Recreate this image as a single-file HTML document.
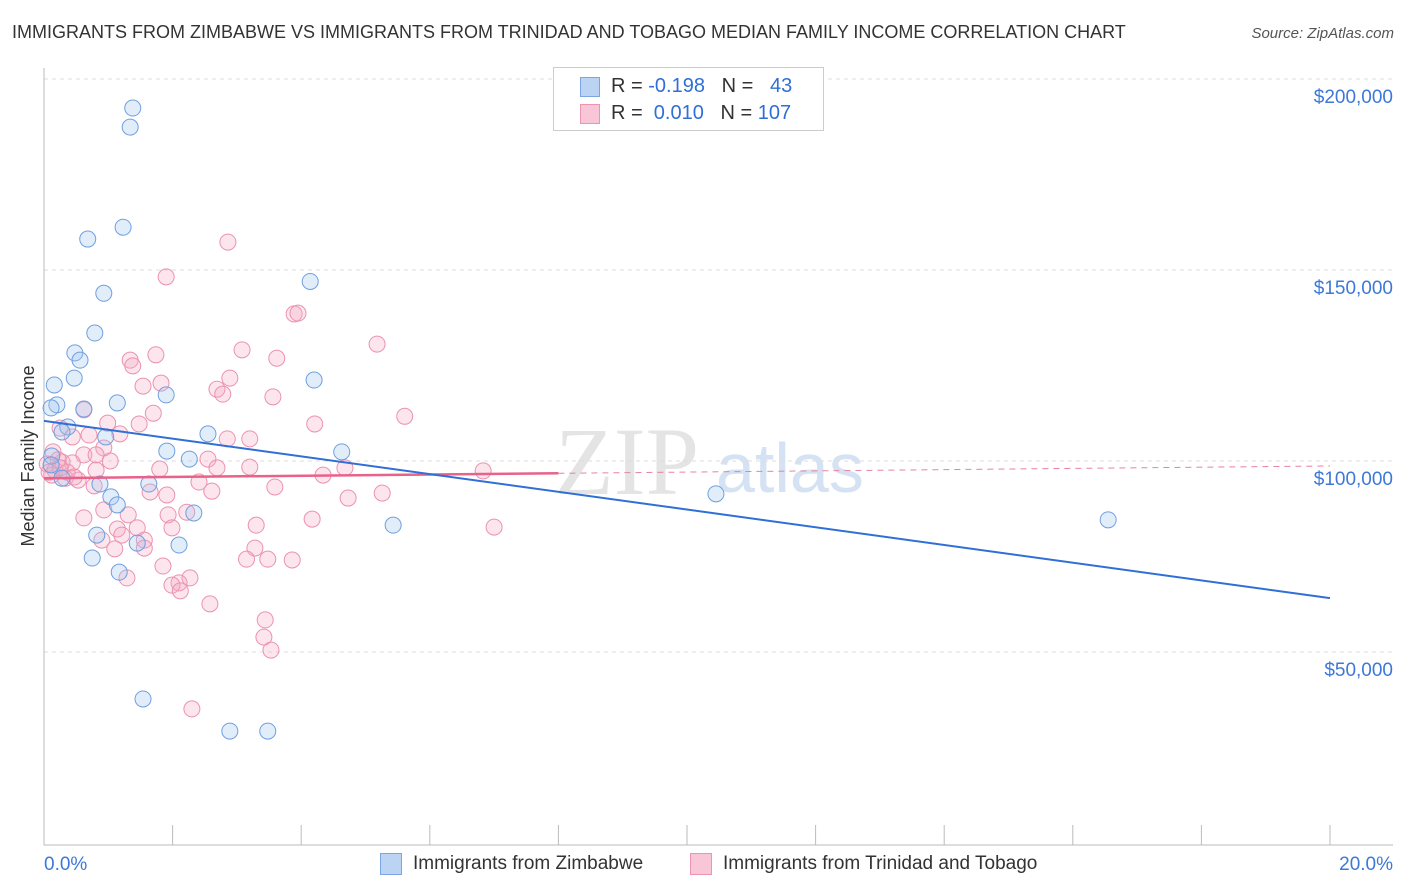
<!DOCTYPE html>
<html><head><meta charset="utf-8"><style>
body{margin:0;background:#fff;font-family:"Liberation Sans",sans-serif;}
#wrap{position:relative;width:1406px;height:892px;overflow:hidden;}
.t{position:absolute;white-space:nowrap;}
</style></head><body><div id="wrap">
<div class="t" style="left:12px;top:22px;font-size:18px;color:#333">IMMIGRANTS FROM ZIMBABWE VS IMMIGRANTS FROM TRINIDAD AND TOBAGO MEDIAN FAMILY INCOME CORRELATION CHART</div>
<div class="t" style="right:12px;top:25px;font-size:15px;font-style:italic;color:#555">Source: ZipAtlas.com</div>
<svg id="svg" width="1406" height="892" style="position:absolute;left:0;top:0">
<text x="555" y="494" font-size="96" font-family="Liberation Serif" fill="#e4e4e4">ZIP</text>
<text x="716" y="492" font-size="70" fill="#d4e2f4">atlas</text>
<g id="grid"></g><g id="axes"></g><g id="marks"></g>
<text x="34" y="456" font-size="18" fill="#333" text-anchor="middle" transform="rotate(-90 34 456)">Median Family Income</text>
</svg>
<div style="position:absolute;left:553px;top:67px;width:269px;height:62px;border:1px solid #ccc;background:#fff;font-size:20px;color:#333">
<div style="position:absolute;left:26px;top:9px;width:18px;height:18px;background:#bcd4f4;border:1px solid #7aa6e4"></div>
<div class="t" style="left:57px;top:7px">R = <span style="color:#2f6fd6">-0.198</span>&nbsp;&nbsp;&nbsp;N = &nbsp;&nbsp;<span style="color:#2f6fd6">43</span></div>
<div style="position:absolute;left:26px;top:36px;width:18px;height:18px;background:#f8c6d6;border:1px solid #ec94b2"></div>
<div class="t" style="left:57px;top:34px">R = &nbsp;<span style="color:#2f6fd6">0.010</span>&nbsp;&nbsp;&nbsp;N = <span style="color:#2f6fd6">107</span></div>
</div>
<div style="position:absolute;left:380px;top:853px;width:20px;height:20px;background:#bcd4f4;border:1px solid #7aa6e4"></div>
<div class="t" style="left:413px;top:853px;font-size:19px;color:#333">Immigrants from Zimbabwe</div>
<div style="position:absolute;left:690px;top:853px;width:20px;height:20px;background:#f8c6d6;border:1px solid #ec94b2"></div>
<div class="t" style="left:723px;top:853px;font-size:19px;color:#333">Immigrants from Trinidad and Tobago</div>
</div>
<script>
const yTicks=[50000,100000,150000,200000];
const yTickLabels=["$50,000","$100,000","$150,000","$200,000"];
const xTickLabels=["0.0%","20.0%"];
const blueX=[1.38,1.34,1.23,0.68,0.93,4.14,0.79,0.48,0.56,0.47,0.16,0.20,0.11,0.62,1.14,1.90,4.20,0.37,0.28,0.96,2.55,1.91,2.26,4.63,0.12,0.87,1.63,1.04,1.14,2.33,5.43,0.82,1.45,2.10,0.75,1.17,10.45,16.55,1.54,2.89,3.48,0.11,0.28];
const blueY=[192400,187400,161200,158100,143900,147000,133500,128300,126400,121700,119900,114700,113900,113600,115200,117300,121200,108900,107600,106300,107100,102600,100500,102400,101300,93970,93970,90600,88500,86400,83200,80600,78500,78000,74600,70900,91400,84600,37700,29300,29300,99000,95500];
const pinkX=[2.86,1.90,3.89,3.95,5.18,3.08,1.74,1.34,3.62,1.38,2.89,1.82,1.54,2.69,2.78,3.56,0.62,1.70,5.61,4.21,0.99,1.48,0.25,0.70,1.18,0.44,3.20,2.85,0.93,0.14,0.62,0.81,1.03,2.55,0.28,0.44,1.80,2.69,3.20,4.68,6.83,0.81,0.12,0.33,0.53,4.34,2.41,3.59,0.78,1.65,2.61,5.26,4.73,1.91,0.93,2.22,1.93,0.62,1.31,4.17,7.00,3.30,1.14,1.45,1.99,1.21,0.90,1.56,1.10,1.56,3.28,3.15,3.48,3.86,1.85,1.29,2.27,2.10,1.99,2.12,2.58,3.44,3.42,3.53,2.30,0.05,0.17,0.22,0.08,0.36,0.47,0.25];
const pinkY=[157300,148200,138500,138700,130600,129100,127800,126400,126900,124900,121700,120400,119600,118800,117500,116800,113400,112500,111700,109700,109900,109700,108600,106800,107100,106300,105800,105800,103400,102400,101600,101600,100000,100500,99700,99500,97900,98200,98400,98200,97400,97600,96300,95500,95000,96300,94500,93200,93500,91900,92100,91600,90300,91100,87200,86600,85900,85100,85900,84800,82700,83200,82200,82500,82500,80600,79300,79300,77000,77200,77200,74300,74300,74100,72500,69400,69400,68100,67500,66000,62600,58400,53900,50500,35100,99200,97600,100300,97100,97100,95800,98200];
const blueTrend=[110500,64100];
const pinkTrend=[95500,98700];
const pinkSolidEnd=8;
const NS="http://www.w3.org/2000/svg";
const X=v=>44+v/20*1286, Y=v=>461-(v-100000)*191/50000;
function mk(p,tag,a){const e=document.createElementNS(NS,tag);for(const k in a)e.setAttribute(k,a[k]);document.getElementById(p).appendChild(e);return e;}
yTicks.forEach((t,i)=>{
 const l=mk('grid','line',{x1:44,x2:1393,y1:Y(t),y2:Y(t),stroke:'#ddd','stroke-dasharray':'4,4'});
 
 
 const tx=mk('grid','text',{x:1393,y:Y(t)+24,'text-anchor':'end','font-size':19,fill:'#3d78d8'});
 tx.textContent=yTickLabels[i];
 
 
});
const ax=mk('axes','path',{d:'M44,68V845H1393',stroke:'#bbb',fill:'none'});


for(let i=0;i<=10;i++){const t=mk('axes','line',{x1:X(i*2),x2:X(i*2),y1:825,y2:845,stroke:'#bbb'});
 
 }
[[0,'start',44],[1,'end',1393]].forEach(([i,a,x])=>{const t=mk('axes','text',{x:x,y:870,'text-anchor':a,'font-size':19,fill:'#3d78d8'});t.textContent=xTickLabels[i];
 
 });
pinkX.forEach((x,i)=>{const c=mk('marks','circle',{cx:X(x),cy:Y(pinkY[i]),r:8,fill:'rgba(244,168,194,0.3)',stroke:'#eb92b0','stroke-width':1});
 
 });
blueX.forEach((x,i)=>{const c=mk('marks','circle',{cx:X(x),cy:Y(blueY[i]),r:8,fill:'rgba(160,196,240,0.3)',stroke:'#6f9fe0','stroke-width':1});
 
 });
const pe=pinkTrend[0]+(pinkTrend[1]-pinkTrend[0])*pinkSolidEnd/20;
const pd=mk('marks','line',{x1:X(pinkSolidEnd),y1:Y(pe),x2:X(20),y2:Y(pinkTrend[1]),stroke:'#e8829f','stroke-width':1,'stroke-dasharray':'6,5'});


const ps=mk('marks','line',{x1:X(0),y1:Y(pinkTrend[0]),x2:X(pinkSolidEnd),y2:Y(pe),stroke:'#e8628a','stroke-width':2.5});


const bl=mk('marks','line',{x1:X(0),y1:Y(blueTrend[0]),x2:X(20),y2:Y(blueTrend[1]),stroke:'#2f6fd6','stroke-width':2});


</script></body></html>
